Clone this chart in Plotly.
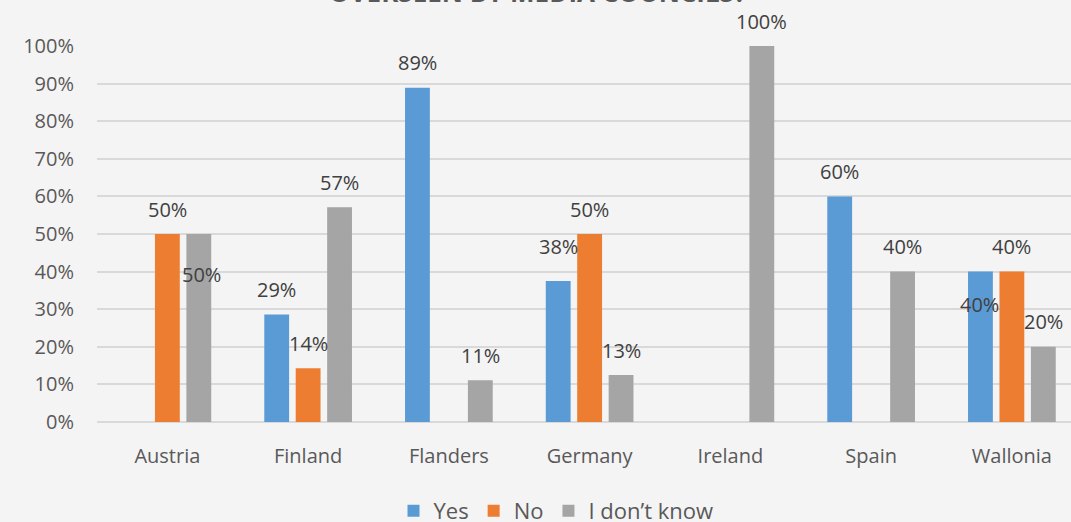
import plotly.graph_objects as go

categories = ["Austria", "Finland", "Flanders", "Germany", "Ireland", "Spain", "Wallonia"]
yes_vals = [None, 28.6, 88.9, 37.5, None, 60.0, 40.0]
no_vals = [50.0, 14.3, None, 50.0, None, None, 40.0]
idk_vals = [50.0, 57.1, 11.1, 12.5, 100.0, 40.0, 20.0]
series_names = ["Yes", "No", "I don\u2019t know"]
colors = ["#5b9bd5", "#ed7d31", "#a5a5a5"]

# label vertical offsets (px) where labels were displaced; default above bar
label_shift = {(0, 2): (-40, 3), (6, 0): (-33, -1), (3, 0): (35, 0)}

bg = "#f4f4f4"
font_family = "Open Sans, Noto Sans, sans-serif"

fig = go.Figure()
all_series = [yes_vals, no_vals, idk_vals]
for name, vals, col in zip(series_names, all_series, colors):
    fig.add_trace(go.Bar(x=categories, y=[None if v is None else v / 100 for v in vals],
                         name=name, marker=dict(color=col, line=dict(width=0))))

pitch = 31.5
annotations = []
for s, vals in enumerate(all_series):
    for i, v in enumerate(vals):
        if v is None:
            continue
        dy, dx = label_shift.get((i, s), (25, 0))
        annotations.append(dict(
            x=categories[i], y=v / 100, xref="x", yref="y",
            text=f"{int(v + 0.5):d}%", showarrow=False,
            xshift=(s - 1) * pitch + dx, yshift=dy, yanchor="middle",
            font=dict(family=font_family, size=20, color="#404040")))

annotations.append(dict(
    text="<b>OVERSEEN BY MEDIA COUNCILS?</b>", showarrow=False,
    xref="paper", yref="paper", x=(537 - 97) / 974, xanchor="center",
    y=1 + 34 / (522 - 146), yanchor="bottom",
    font=dict(family=font_family, size=26, color="#595959")))

fig.update_layout(
    width=1071, height=522,
    paper_bgcolor=bg, plot_bgcolor=bg,
    margin=dict(l=97, r=0, t=46, b=100, autoexpand=False),
    barmode="group", bargap=0.33, bargroupgap=0.21,
    annotations=annotations,
    showlegend=True,
    legend=dict(orientation="h", xref="container", yref="paper",
                x=556 / 1071, xanchor="center", y=-89 / 376, yanchor="middle",
                font=dict(family=font_family, size=22, color="#595959"),
                itemwidth=30, tracegroupgap=0, bgcolor="rgba(0,0,0,0)"),
    font=dict(family=font_family, size=20, color="#595959"),
)
fig.update_xaxes(range=[-0.5, 6.42], showgrid=False, showline=False, ticks="",
                 ticklabelstandoff=20, tickfont=dict(size=20, color="#595959"))
fig.update_yaxes(range=[0, 1], tickformat=".0%", dtick=0.1, showgrid=True,
                 gridcolor="#d9d9d9", gridwidth=1.5, zeroline=True, zerolinecolor="#d9d9d9",
                 zerolinewidth=1.5, ticklabelstandoff=22, tickfont=dict(size=20, color="#595959"))

fig.write_html("out.html", config={"displayModeBar": False},
               post_script="document.body.style.margin='0';document.body.style.background='#f4f4f4';")
